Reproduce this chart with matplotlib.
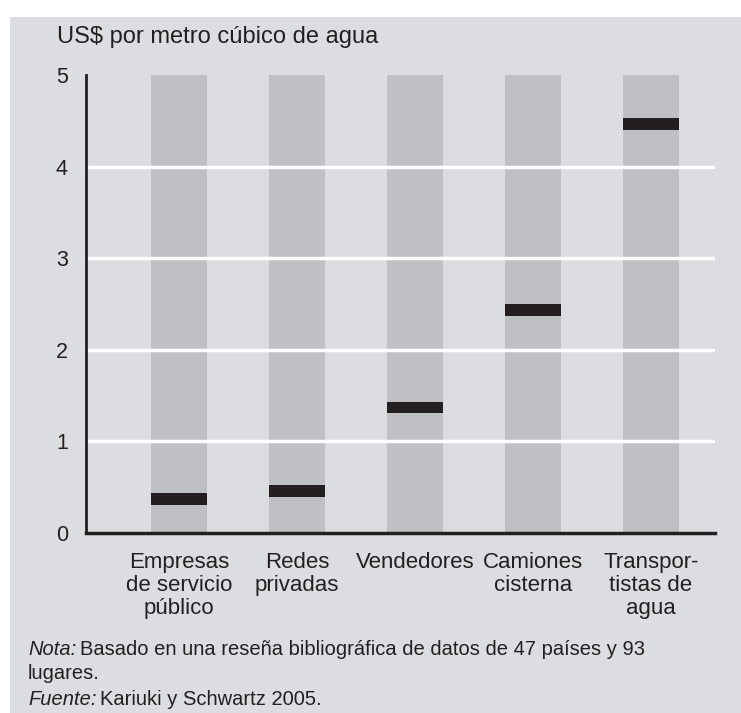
import matplotlib
matplotlib.use("Agg")
import matplotlib.pyplot as plt
from matplotlib.patches import Rectangle

# data
categories = ["Empresas\nde servicio\npúblico", "Redes\nprivadas", "Vendedores",
              "Camiones\ncisterna", "Transpor-\ntistas de\nagua"]
prices = [0.37, 0.46, 1.37, 2.43, 4.47]
y_ticks = [0, 1, 2, 3, 4, 5]

title = "US$ por metro cúbico de agua"
nota = "Basado en una reseña bibliográfica de datos de 47 países y 93"
nota2 = "lugares."
fuente = "Kariuki y Schwartz 2005."

plt.rcParams['font.family'] = ['Liberation Sans', 'DejaVu Sans']

BG = "#dcdde0"
COL = "#bfc0c3"
DARK = "#231f20"
W, H = 741, 713

fig = plt.figure(figsize=(W/100, H/100), dpi=100)
fig.patches.append(Rectangle((10/W, 0), 1, 1 - 17/H, transform=fig.transFigure,
                             facecolor=BG, edgecolor="none", zorder=-5))

ax = fig.add_axes([86/W, 1 - 533/H, (715 - 86)/W, (533 - 75)/H])
ax.set_facecolor("none")
x = list(range(len(categories)))
bw = 0.48
ax.bar(x, [5]*len(x), width=bw, color=COL, zorder=1)
for v in y_ticks[1:-1]:
    ax.axhline(v, color="white", lw=2.5, zorder=2)
# short black marks at each median price
ax.bar(x, [0.13]*len(x), bottom=[p - 0.065 for p in prices], width=bw, color=DARK, zorder=3)

ax.set_xlim((86 - 179)/118, (715 - 179)/118)
ax.set_ylim(0, 5)
ax.set_yticks(y_ticks)
ax.set_yticklabels([str(t) for t in y_ticks], fontsize=15.5, color=DARK)
ax.set_xticks(x)
ax.set_xticklabels(categories, fontsize=16, color=DARK, linespacing=1.12)
ax.tick_params(length=0)
ax.tick_params(axis='y', pad=13)
ax.tick_params(axis='x', pad=14)
for s in ["top", "right"]:
    ax.spines[s].set_visible(False)
ax.spines["left"].set_linewidth(2)
ax.spines["bottom"].set_linewidth(2.5)
ax.spines["left"].set_color(DARK)
ax.spines["bottom"].set_color(DARK)

fig.text(57/W, 1 - 43/H, title, fontsize=17, color=DARK, va="baseline", ha="left",
         fontweight="medium")

# notes: italic label followed by plain text
fig.canvas.draw()
r = fig.canvas.get_renderer()
def note(label, text, y):
    t1 = fig.text(28/W, 1 - y/H, label, fontsize=14.5, color=DARK, va="baseline", style="italic")
    x1 = t1.get_window_extent(r).x1
    fig.text((x1 + 4)/W, 1 - y/H, text, fontsize=14.5, color=DARK, va="baseline")

note("Nota:", nota, 655)
fig.text(28/W, 1 - 679/H, nota2, fontsize=14.5, color=DARK, va="baseline")
note("Fuente:", fuente, 705)

fig.savefig("out.png", dpi=100, facecolor="white")
